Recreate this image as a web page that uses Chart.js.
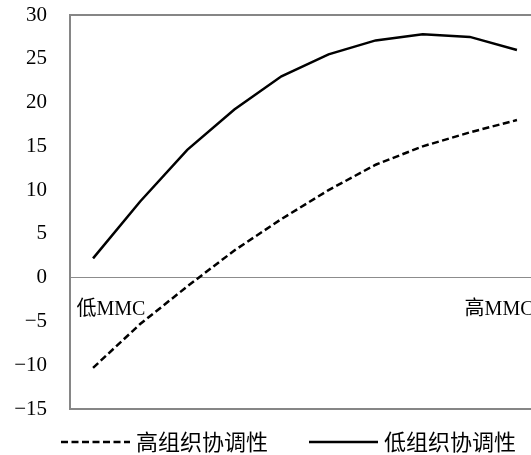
<!DOCTYPE html>
<html><head><meta charset="utf-8">
<script src="https://cdn.jsdelivr.net/npm/chart.js@4/dist/chart.umd.min.js"></script>
<style>
html,body{margin:0;padding:0;overflow:hidden;background:#fff;width:531px;height:455px}
#wrap{position:absolute;left:0;top:0;width:585px;height:455px}
</style></head><body>
<div id="wrap"><canvas id="c"></canvas></div>
<script>
const categories = ['低MMC','','','','','','','','','高MMC'];
const highCoordination = [-10.3,-5.3,-1.0,3.1,6.7,10.0,12.9,15.0,16.6,18.0];
const lowCoordination = [2.2,8.7,14.6,19.2,23.0,25.5,27.1,27.8,27.5,26.0];
const seriesNames = ['高组织协调性','低组织协调性'];
const yMin = -15, yMax = 30, yStep = 5;

const frameGray = '#868686';
const serifFont = '"Liberation Serif", "Noto Sans CJK SC", serif';

const annotate = {
  id: 'annotate',
  afterDraw(chart) {
    const {ctx, chartArea, scales: {y}} = chart;
    ctx.save();
    ctx.fillStyle = '#000';
    ctx.textBaseline = 'middle';
    ctx.font = '20px ' + serifFont;
    const ly = y.getPixelForValue(0) + 32;
    ctx.textAlign = 'left';
    ctx.fillText(categories[0], chartArea.left + 7, ly);
    ctx.textAlign = 'right';
    ctx.fillText(categories[categories.length - 1], chartArea.right - 7, ly);

    // legend
    ctx.font = '22px "Noto Sans CJK SC", sans-serif';
    const lineLen = 69, gap = 6, sep = 41;
    const items = chart.data.datasets.map(ds => ({ds, w: ctx.measureText(ds.label).width}));
    const total = items.reduce((s, it) => s + lineLen + gap + it.w, 0) + sep * (items.length - 1);
    let cx = chart.width / 2 - total / 2 - 4;
    const cy = chartArea.bottom + 33;
    ctx.textAlign = 'left';
    items.forEach(it => {
      ctx.beginPath();
      ctx.setLineDash(it.ds.borderDash || []);
      ctx.lineWidth = it.ds.borderWidth;
      ctx.strokeStyle = it.ds.borderColor;
      ctx.moveTo(cx, cy);
      ctx.lineTo(cx + lineLen, cy);
      ctx.stroke();
      ctx.setLineDash([]);
      ctx.fillText(it.ds.label, cx + lineLen + gap, cy);
      cx += lineLen + gap + it.w + sep;
    });
    ctx.restore();
  }
};

new Chart(document.getElementById('c'), {
  type: 'line',
  data: {
    labels: categories,
    datasets: [
      {label: seriesNames[0], data: highCoordination, borderColor: '#000', borderWidth: 2.5,
       borderDash: [7, 3.5], pointRadius: 0, tension: 0, fill: false},
      {label: seriesNames[1], data: lowCoordination, borderColor: '#000', borderWidth: 2.5,
       pointRadius: 0, tension: 0, fill: false}
    ]
  },
  options: {
    responsive: true,
    maintainAspectRatio: false,
    animation: false,
    layout: {padding: {left: 0, right: 44.5, top: 15, bottom: 46}},
    plugins: {legend: {display: false}, tooltip: {enabled: false}},
    scales: {
      x: {
        type: 'category',
        display: false,
        offset: true
      },
      y: {
        min: yMin, max: yMax,
        afterFit: s => { s.width = 69.5; s.paddingTop = 0; s.paddingBottom = 0; },
        ticks: {
          stepSize: yStep,
          padding: 22.5,
          color: '#000',
          font: {family: serifFont, size: 21},
          callback: v => String(v).replace('-', '\u2212')
        },
        grid: {
          drawTicks: false,
          color: ctx => (ctx.tick && (ctx.tick.value === yMax || ctx.tick.value === yMin)) ? frameGray : (ctx.tick && ctx.tick.value === 0 ? '#8c8c8c' : 'rgba(0,0,0,0)'),
          lineWidth: ctx => (ctx.tick && (ctx.tick.value === yMax || ctx.tick.value === yMin)) ? 2 : (ctx.tick && ctx.tick.value === 0 ? 1 : 0)
        },
        border: {display: true, color: frameGray, width: 2}
      }
    }
  },
  plugins: [annotate]
});
</script>
</body></html>
